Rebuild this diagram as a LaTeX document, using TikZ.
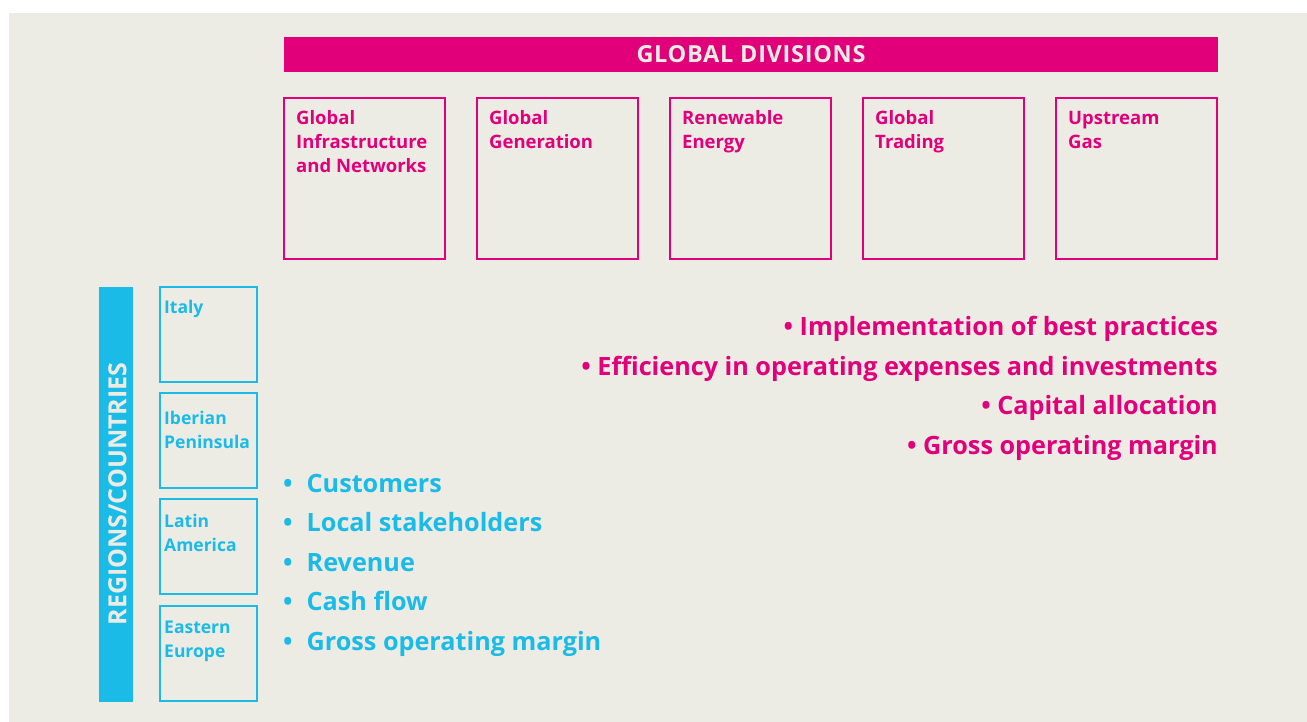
\documentclass[tikz,border=0pt]{standalone}
\usepackage{fontspec}
\setmainfont{Open Sans}
\definecolor{bg}{HTML}{ECEBE4}
\definecolor{pk}{HTML}{E2007A}
\definecolor{bl}{HTML}{1BBBE8}
\begin{document}
\begin{tikzpicture}[x=1pt,y=-1pt,
  divbox/.style={draw=pk,line width=2pt},
  regbox/.style={draw=bl,line width=2pt},
  divlabel/.style={anchor=base west,inner sep=0pt,text=pk,font=\bfseries\fontsize{18.5}{24}\selectfont},
  reglabel/.style={anchor=base west,inner sep=0pt,text=bl,font=\bfseries\fontsize{17.5}{24}\selectfont},
  pkitem/.style={anchor=base east,inner sep=0pt,text=pk,font=\bfseries\fontsize{25.2}{30}\selectfont},
  blitem/.style={anchor=base west,inner sep=0pt,text=bl,font=\bfseries\fontsize{25.2}{30}\selectfont}]
\useasboundingbox (0,0) rectangle (1307,722);
\fill[bg] (9,13) rectangle (1307,722);
% title bar
\fill[pk] (284,37) rectangle (1218,72);
\node[inner sep=0pt,anchor=base,text=bg,font=\bfseries\fontsize{23.5}{24}\selectfont\addfontfeature{LetterSpace=3}] (title) at (751,62.5) {GLOBAL DIVISIONS};
% division boxes
\foreach \i/\x in {1/284,2/477,3/670,4/863,5/1056}{
  \draw[divbox] (\x,98) rectangle ++(161,161);
}
\node[divlabel] (d1) at (296,125) {\parbox[t]{150pt}{\raggedright Global\\Infrastructure\\and Networks}};
\node[divlabel] (d2) at (489,125) {\parbox[t]{150pt}{\raggedright Global\\Generation}};
\node[divlabel] (d3) at (682,125) {\parbox[t]{150pt}{\raggedright Renewable\\Energy}};
\node[divlabel] (d4) at (875,125) {\parbox[t]{150pt}{\raggedright Global\\Trading}};
\node[divlabel] (d5) at (1068,125) {\parbox[t]{150pt}{\raggedright Upstream\\Gas}};
% regions bar
\fill[bl] (99,287) rectangle (133,702);
\node[rotate=90,inner sep=0pt,text=bg,font=\bfseries\fontsize{25}{26}\selectfont] (regions) at (117.5,494) {REGIONS/COUNTRIES};
% region boxes
\foreach \y in {287,393,499,606}{
  \draw[regbox] (160,\y) rectangle ++(97,95);
}
\node[reglabel] (r1) at (164,313) {\parbox[t]{90pt}{\raggedright Italy}};
\node[reglabel] (r2) at (164,424) {\parbox[t]{90pt}{\raggedright Iberian\\Peninsula}};
\node[reglabel] (r3) at (164,527) {\parbox[t]{90pt}{\raggedright Latin\\America}};
\node[reglabel] (r4) at (164,633) {\parbox[t]{90pt}{\raggedright Eastern\\Europe}};
% pink bullets
\node[pkitem] (p1) at (1218,335) {• Implementation of best practices};
\node[pkitem] (p2) at (1218,375) {• Efficiency in operating expenses and investments};
\node[pkitem] (p3) at (1218,414) {• Capital allocation};
\node[pkitem] (p4) at (1218,454) {• Gross operating margin};
% blue bullets
\foreach \n/\y/\t in {b1/492/Customers,b2/531/Local stakeholders,b3/571/Revenue,b4/610/Cash flow,b5/650/Gross operating margin}{
  \node[blitem] (\n) at (283,\y) {•\hspace{14pt}\t};
}
\end{tikzpicture}
\end{document}
